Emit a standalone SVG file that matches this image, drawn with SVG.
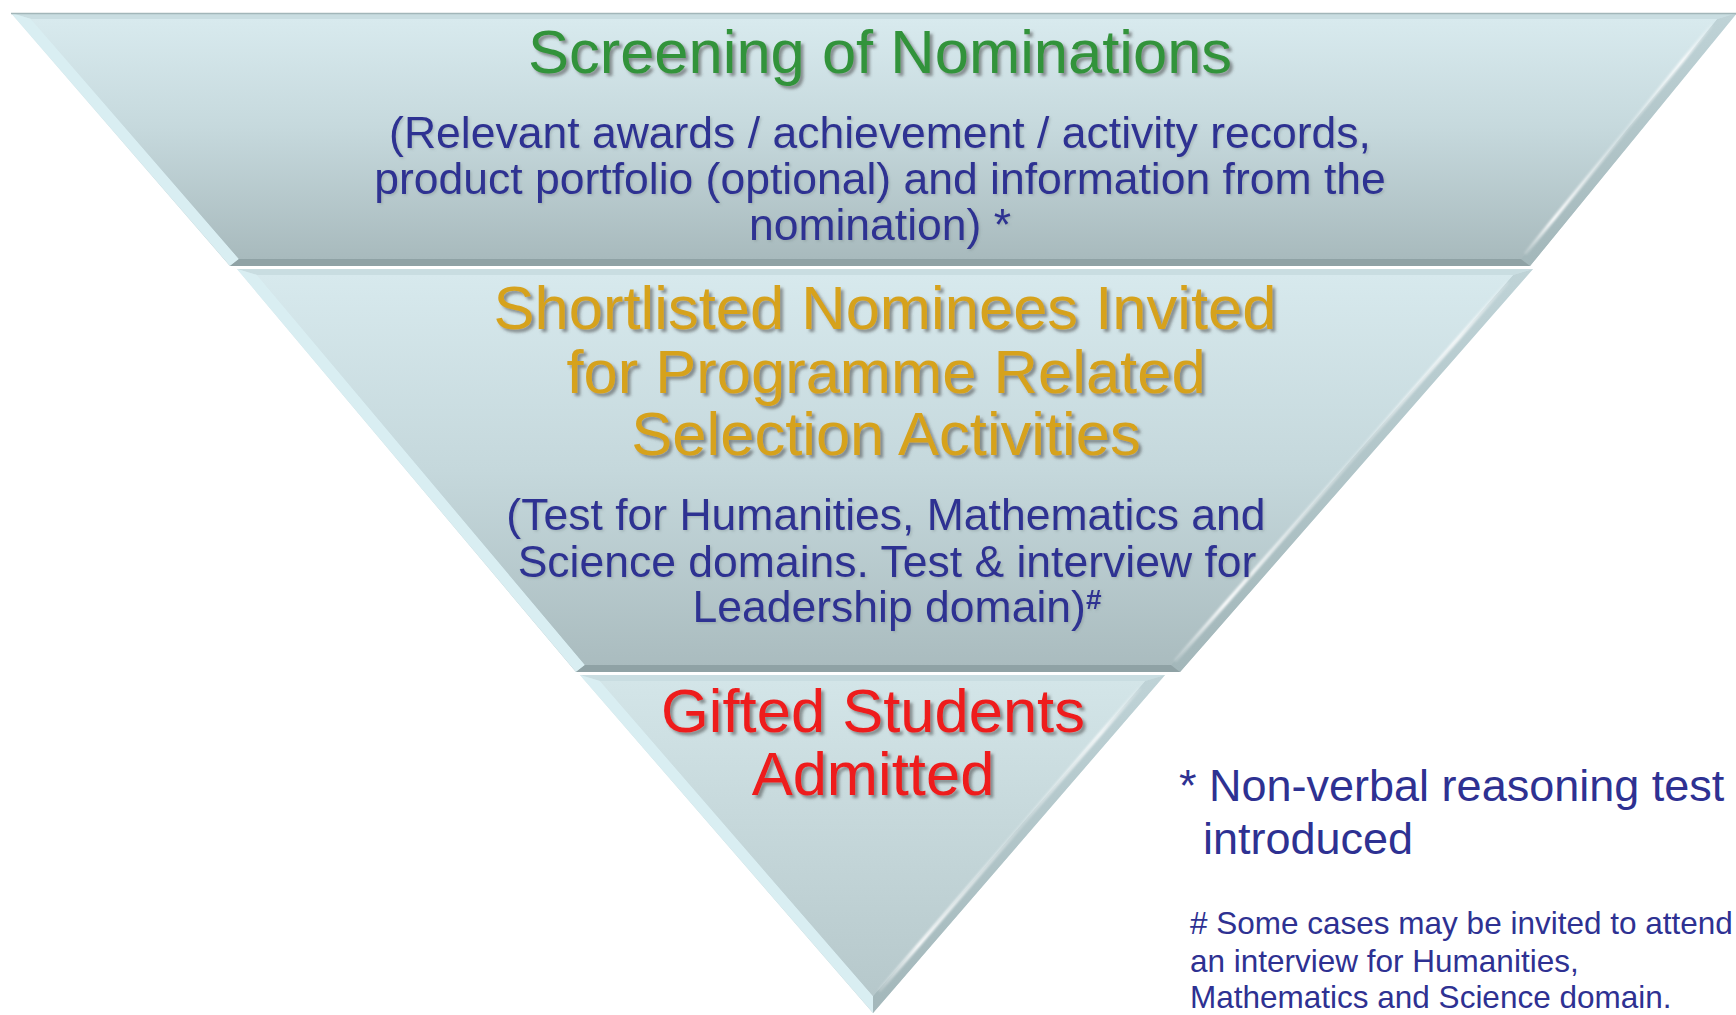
<svg xmlns="http://www.w3.org/2000/svg" width="1736" height="1015" viewBox="0 0 1736 1015">
<style>
  .title{font-family:"Liberation Sans",Arial,sans-serif;font-size:61.5px;text-anchor:middle;filter:url(#ts)}
  .sub{font-family:"Liberation Sans",Arial,sans-serif;font-size:44.5px;fill:#2e3192;text-anchor:middle;filter:url(#ts2)}
  .note{font-family:"Liberation Sans",Arial,sans-serif;fill:#2e3192}
  .top{fill:#c9dde1}
  .left{fill:#d9eef2}
  .right{fill:url(#gR)}
  .bottom{fill:#8fa2a5}
  .hl{fill:none;stroke:url(#gH);stroke-width:3.5;stroke-linecap:round;filter:url(#soft)}
  .edge{fill:none;stroke:#a2b6b9;stroke-width:1.5}
</style>
<defs>
  <linearGradient id="g1" x1="0" y1="0" x2="0" y2="1">
    <stop offset="0" stop-color="#d8eaee"/>
    <stop offset="0.45" stop-color="#c6d9dd"/>
    <stop offset="1" stop-color="#a8babd"/>
  </linearGradient>
  <linearGradient id="g2" x1="0" y1="0" x2="0" y2="1">
    <stop offset="0" stop-color="#d7e9ed"/>
    <stop offset="0.5" stop-color="#c5d8dc"/>
    <stop offset="1" stop-color="#aabcbf"/>
  </linearGradient>
  <linearGradient id="g3" x1="0" y1="0" x2="0" y2="1">
    <stop offset="0" stop-color="#d3e5e8"/>
    <stop offset="1" stop-color="#b6c8cb"/>
  </linearGradient>
  <linearGradient id="gR" x1="0" y1="0" x2="0" y2="1">
    <stop offset="0" stop-color="#bfd3d7"/>
    <stop offset="1" stop-color="#a3b7ba"/>
  </linearGradient>
  <linearGradient id="gH" x1="0" y1="0" x2="0" y2="1">
    <stop offset="0" stop-color="#ffffff" stop-opacity="0.15"/>
    <stop offset="0.15" stop-color="#ffffff" stop-opacity="0.85"/>
    <stop offset="0.45" stop-color="#ffffff" stop-opacity="0.25"/>
    <stop offset="0.85" stop-color="#ffffff" stop-opacity="0.95"/>
    <stop offset="1" stop-color="#ffffff" stop-opacity="0.2"/>
  </linearGradient>
  <filter id="ts" x="-5%" y="-30%" width="110%" height="160%">
    <feDropShadow dx="3" dy="3" stdDeviation="1.6" flood-color="#4a4a4a" flood-opacity="0.55"/>
  </filter>
  <filter id="ts2" x="-5%" y="-30%" width="110%" height="160%">
    <feDropShadow dx="1.5" dy="1.5" stdDeviation="1" flood-color="#6a7a7c" flood-opacity="0.3"/>
  </filter>
  <filter id="soft" x="-10%" y="-10%" width="120%" height="120%">
    <feGaussianBlur stdDeviation="1"/>
  </filter>
</defs>

<g id="band-screening">
  <polygon points="11,13 1737,13 1530,266 230,266" fill="url(#g1)"/>
  <polygon class="top" points="11,13 1737,13 1717,19 31,19"/>
  <polygon class="left" points="11,13 31,19 239,259 230,266"/>
  <polygon class="right" points="1737,13 1530,266 1521,259 1717,19"/>
  <polygon class="bottom" points="230,266 239,259 1521,259 1530,266"/>
  <polygon fill="url(#g1)" points="31,19 1717,19 1521,259 239,259"/>
  <line class="edge" x1="11" y1="13.5" x2="1737" y2="13.5"/>
  <line class="hl" x1="1711" y1="26" x2="1526" y2="253"/>
  <text class="title" x="880" y="73" fill="#33933a">Screening of Nominations</text>
  <text class="sub" x="880" y="148">(Relevant awards / achievement / activity records,</text>
  <text class="sub" x="880" y="194">product portfolio (optional) and information from the</text>
  <text class="sub" x="880" y="240">nomination) *</text>
</g>

<g id="band-shortlisted">
  <polygon points="237,269 1533,269 1180,672 576,672" fill="url(#g2)"/>
  <polygon class="top" points="237,269 1533,269 1513,275 257,275"/>
  <polygon class="left" points="237,269 257,275 585,665 576,672"/>
  <polygon class="right" points="1533,269 1180,672 1171,665 1513,275"/>
  <polygon class="bottom" points="576,672 585,665 1171,665 1180,672"/>
  <polygon fill="url(#g2)" points="257,275 1513,275 1171,665 585,665"/>
  <line class="hl" x1="1507" y1="283" x2="1176" y2="660"/>
  <text class="title" x="885" y="329" fill="#d6a21f">Shortlisted Nominees Invited</text>
  <text class="title" x="886" y="393" fill="#d6a21f">for Programme Related</text>
  <text class="title" x="886" y="455" fill="#d6a21f">Selection Activities</text>
  <text class="sub" x="886" y="530">(Test for Humanities, Mathematics and</text>
  <text class="sub" x="887" y="577">Science domains. Test &amp; interview for</text>
  <text class="sub" x="897" y="622">Leadership domain)<tspan font-size="28" font-weight="bold" dy="-13">#</tspan></text>
</g>

<g id="band-admitted">
  <polygon points="580,675 1165,675 873,1013" fill="url(#g3)"/>
  <polygon class="top" points="580,675 1165,675 1145,681 600,681"/>
  <polygon class="left" points="580,675 600,681 873,996 873,1013"/>
  <polygon class="right" points="1165,675 873,1013 873,996 1145,681"/>
  <polygon fill="url(#g3)" points="600,681 1145,681 873,996"/>
  <line class="hl" x1="1139" y1="689" x2="880" y2="990"/>
  <text class="title" x="873" y="732" fill="#ee1a1a">Gifted Students</text>
  <text class="title" x="873" y="795" fill="#ee1a1a">Admitted</text>
</g>

<g id="notes">
  <text class="note" x="1179" y="801" font-size="45">* Non-verbal reasoning test</text>
  <text class="note" x="1203" y="854" font-size="45">introduced</text>
  <text class="note" x="1190" y="934" font-size="31.5"># Some cases may be invited to attend</text>
  <text class="note" x="1190" y="972" font-size="31.5">an interview for Humanities,</text>
  <text class="note" x="1190" y="1008" font-size="31.5">Mathematics and Science domain.</text>
</g>

<g id="connectors"/>
</svg>
